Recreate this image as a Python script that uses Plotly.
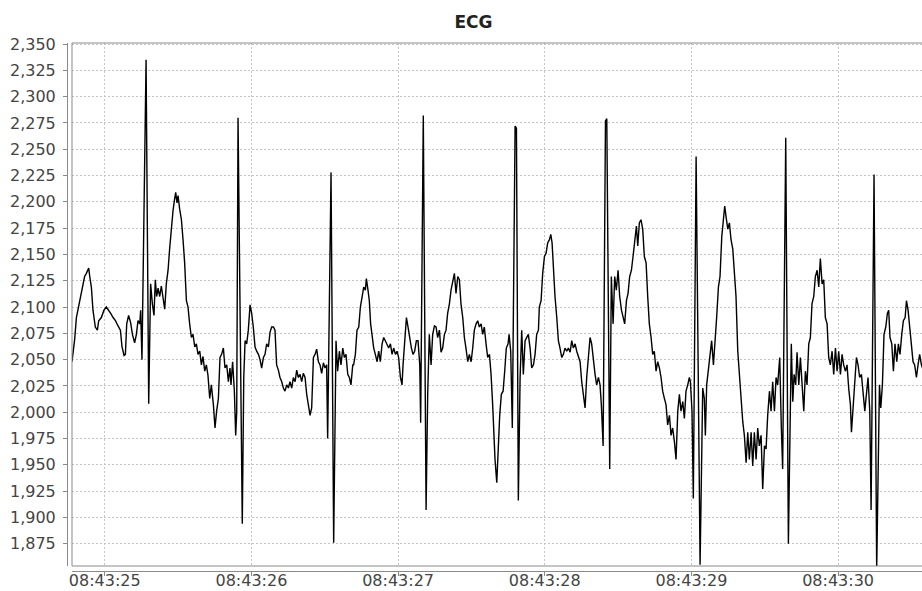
import plotly.graph_objects as go
import pandas as pd

# time offsets (ms) relative to 08:43:25.000 and ECG values
t_ms = [
    -223, -205, -193, -171, -155, -137, -125, -109, -102, -91, -80, -64, -50, -41, -23, -5,
    11, 27, 41, 57, 73, 91, 107, 118, 132, 141, 150, 163, 177, 189, 204, 216, 227, 239, 245,
    254, 282, 300, 313, 325, 336, 345, 354, 364, 375, 386, 398, 409, 420, 432, 443, 454, 466,
    477, 484, 493, 500, 511, 523, 534, 545, 557, 568, 579, 591, 602, 614, 625, 636, 648, 659,
    670, 682, 693, 704, 716, 727,
    741, 752, 763, 775, 786, 797, 809, 820, 832, 843, 854, 861, 872, 884, 893, 900, 909, 938,
    948, 957, 968, 979, 991, 1002, 1013, 1025, 1036, 1048, 1059, 1070, 1082, 1093, 1104, 1116,
    1127, 1138, 1150, 1161, 1172, 1184, 1195, 1207, 1218, 1229, 1241, 1252, 1263, 1275, 1286,
    1298, 1309, 1320, 1332, 1343, 1354, 1366, 1377, 1388, 1400, 1411, 1423, 1434, 1445, 1457,
    1468, 1479, 1491, 1502, 1513, 1520, 1543, 1561, 1577, 1588, 1600, 1611, 1623, 1634, 1645,
    1657, 1668, 1679, 1691,
    1697, 1709, 1720, 1732, 1743, 1754, 1766, 1777, 1784, 1795, 1804, 1813, 1822, 1834, 1845,
    1857, 1868, 1879, 1891, 1902, 1913, 1925, 1936, 1948, 1959, 1970, 1982, 1993, 2004, 2016,
    2027, 2034, 2045, 2057, 2068, 2079, 2091, 2102, 2113, 2125, 2136, 2148, 2154, 2172, 2191,
    2202, 2213, 2225, 2236, 2248, 2259, 2270, 2282, 2293, 2304, 2316, 2327, 2338, 2350, 2361,
    2373, 2384, 2395, 2407, 2418, 2429, 2441, 2452, 2463, 2475, 2486, 2498, 2509, 2520, 2532,
    2543, 2554, 2566, 2577, 2588, 2600, 2611, 2623, 2634, 2645, 2654,
    2661, 2673, 2682, 2693, 2704, 2716, 2727, 2738, 2750, 2757, 2768, 2779, 2798, 2807, 2820,
    2832, 2843, 2854, 2866, 2877, 2888, 2900, 2911, 2923, 2934, 2945, 2957, 2963, 2975, 2986,
    2998, 3009, 3020, 3032, 3041, 3050, 3059, 3070, 3082, 3093, 3104, 3116, 3127, 3138, 3150,
    3161, 3173, 3184, 3195, 3207, 3218, 3229, 3241, 3252, 3263, 3275, 3286, 3298, 3309, 3320,
    3332, 3343, 3354, 3366, 3377, 3386, 3398, 3414, 3423, 3443, 3454, 3466, 3477, 3488, 3500,
    3511, 3523, 3534, 3545, 3557, 3568, 3579, 3591, 3602, 3614, 3625,
    3634, 3645, 3656, 3668, 3679, 3691, 3702, 3713, 3725, 3736, 3747, 3759, 3770, 3782, 3793,
    3804, 3816, 3827, 3838, 3850, 3861, 3872, 3884, 3895, 3907, 3918, 3929, 3941, 3952, 3963,
    3975, 3986, 3993, 4004, 4013, 4032, 4059, 4077, 4088, 4095, 4104, 4116, 4127, 4138, 4150,
    4161, 4172, 4184, 4195, 4207, 4218, 4227, 4236, 4248, 4259, 4270, 4282, 4293, 4304, 4316,
    4327, 4338, 4350, 4361, 4373, 4384, 4395, 4407, 4418, 4429, 4441, 4452, 4463, 4475, 4486,
    4498, 4509, 4520, 4532, 4543, 4554, 4566, 4577, 4588,
    4602, 4613, 4622, 4643, 4661, 4681, 4691, 4700, 4711, 4720, 4732, 4743, 4754, 4766, 4777,
    4788, 4800, 4811, 4822, 4834, 4845, 4857, 4868, 4879, 4891, 4902, 4913, 4925, 4936, 4947,
    4959, 4970, 4982, 4993, 5004, 5016, 5027, 5038, 5050, 5061, 5072, 5084, 5091, 5102, 5113,
    5125, 5136, 5147, 5159, 5170, 5182, 5193, 5204, 5216, 5225, 5245, 5263, 5282, 5291, 5302,
    5313, 5325, 5336, 5345, 5354, 5366, 5377, 5388, 5400, 5411, 5422, 5434, 5445, 5457, 5466,
    5477, 5488, 5500, 5511, 5522, 5534, 5545, 5556, 5568, 5580,
]

ecg = [
    2048, 2069, 2090, 2106, 2119, 2129, 2132, 2137, 2129, 2119, 2097, 2081, 2078, 2087, 2090, 2097,
    2100, 2097, 2094, 2090, 2087, 2082, 2078, 2062, 2054, 2055, 2084, 2092, 2085, 2074, 2066, 2074, 2087, 2084, 2097,
    2050, 2335, 2008, 2122, 2103, 2092, 2126, 2110, 2118, 2110, 2120, 2110, 2098, 2122, 2135, 2156, 2174, 2192,
    2203, 2209, 2199, 2206, 2193, 2183, 2164, 2142, 2106, 2100, 2084, 2071, 2074, 2062, 2065, 2055, 2058, 2045,
    2053, 2039, 2045, 2035, 2013, 2026,
    2007, 1985, 2001, 2013, 2052, 2055, 2061, 2042, 2045, 2029, 2042, 2026, 2048, 2020, 1978, 2001, 2280, 1894,
    2033, 2068, 2065, 2078, 2102, 2094, 2081, 2062, 2058, 2055, 2050, 2042, 2052, 2055, 2065, 2062,
    2076, 2081, 2081, 2078, 2045, 2040, 2033, 2029, 2023, 2020, 2026, 2023, 2029, 2023, 2033,
    2029, 2040, 2033, 2036, 2029, 2037, 2033, 2017, 2007, 1997, 2004, 2052, 2055, 2060, 2048,
    2045, 2037, 2047, 2042, 2045, 1975, 2228, 1876, 2068, 2039, 2058, 2045, 2061, 2052, 2055,
    2036, 2033, 2026, 2045,
    2045, 2055, 2078, 2081, 2100, 2110, 2119, 2116, 2127, 2116, 2106, 2084, 2074, 2061, 2055,
    2048, 2058, 2048, 2065, 2071, 2068, 2065, 2061, 2065, 2055, 2061, 2055, 2058, 2052, 2033,
    2026, 2045, 2071, 2090, 2081, 2071, 2061, 2055, 2058, 2068, 2068, 2045, 1990, 2282, 1907,
    2017, 2074, 2045, 2074, 2082, 2081, 2071, 2078, 2057, 2061, 2074, 2078, 2094, 2103, 2116,
    2126, 2132, 2113, 2129, 2126, 2103, 2090, 2071, 2061, 2048, 2055, 2048, 2061, 2078, 2084,
    2087, 2081, 2084, 2074, 2081, 2065, 2052, 2055, 2036, 2007, 1968,
    1955, 1933, 1968, 1997, 2017, 2020, 2039, 2061, 2065, 2074, 2058, 1985, 2272, 2270, 1916,
    2033, 2078, 2036, 2068, 2071, 2074, 2061, 2042, 2045, 2055, 2074, 2078, 2100, 2106, 2132,
    2148, 2151, 2161, 2164, 2169, 2161, 2135, 2110, 2090, 2068, 2061, 2052, 2055, 2061, 2058,
    2061, 2057, 2068, 2061, 2065, 2058, 2052, 2048, 2029, 2017, 2004, 2033, 2058, 2071, 2065,
    2048, 2036, 2026, 2033, 2026, 2007, 1968, 2277, 2279, 1946, 2129, 2084, 2129, 2116, 2135,
    2110, 2097, 2090, 2084, 2106, 2113, 2129, 2135, 2148, 2161, 2177,
    2158, 2180, 2183, 2174, 2148, 2142, 2110, 2084, 2071, 2055, 2058, 2039, 2048, 2042, 2033,
    2020, 2013, 2007, 1988, 1997, 1978, 1985, 1972, 1955, 2001, 2017, 2001, 2010, 1994, 2020,
    2026, 2033, 2029, 2001, 1918, 2243, 1855, 2023, 2013, 1978, 2026, 2039, 2055, 2068, 2045,
    2065, 2090, 2119, 2129, 2167, 2180, 2196, 2186, 2174, 2180, 2164, 2155, 2132, 2110, 2058,
    2033, 2010, 1991, 1978, 1952, 1981, 1955, 1981, 1949, 1981, 1955, 1985, 1968, 1978, 1927,
    1968, 1965, 1997, 2020, 2001, 2029, 2001, 2033, 2026,
    2052, 1985, 1946, 2261, 1875, 2065, 2010, 2036, 2026, 2057, 2026, 2052, 2026, 2001, 2039,
    2026, 2065, 2071, 2103, 2110, 2129, 2135, 2119, 2146, 2122, 2126, 2090, 2084, 2052, 2045,
    2058, 2036, 2061, 2039, 2058, 2036, 2055, 2045, 2039, 2045, 2023, 2007, 1981, 2001, 2026,
    2052, 2045, 2033, 2036, 2020, 2001, 2017, 2033, 2001, 1907, 2226, 1850, 2026, 2004, 2026,
    2074, 2081, 2094, 2097, 2071, 2065, 2039, 2065, 2048, 2065, 2055, 2074, 2087, 2090, 2106,
    2097, 2081, 2065, 2048, 2045, 2033, 2045, 2055, 2045, 2040,
]

title_text = "ECG"
base = pd.Timestamp("2024-01-01 08:43:25")
times = base + pd.to_timedelta(t_ms, unit="ms")
x_range = [base + pd.Timedelta(milliseconds=-223), base + pd.Timedelta(milliseconds=5572)]
y_range = [1853.8, 2351]

W, H = 922, 591
ML, MR, MT, MB = 67, 0, 43, 20
GAP = 5
axis_grey = "#8a8a8a"
grid_grey = "#c4c4c4"
font_family = "DejaVu Sans"

fig = go.Figure()
fig.add_trace(go.Scatter(
    x=times, y=ecg, mode="lines",
    line=dict(color="black", width=1.4),
    hoverinfo="x+y", showlegend=False,
))

fig.update_layout(
    width=W, height=H,
    margin=dict(l=ML, r=MR, t=MT, b=MB, autoexpand=False),
    paper_bgcolor="white", plot_bgcolor="white",
    title=dict(text=title_text, x=(473.5 - ML) / (W - ML - MR), xref="paper", xanchor="center",
               y=1 - 22 / H, yref="container", yanchor="middle",
               font=dict(family=font_family, size=17, color="#222222", weight="bold")),
    font=dict(family=font_family, size=16, color="#444444"),
    xaxis=dict(
        type="date", range=x_range,
        domain=[GAP / (W - ML - MR), 1],
        anchor="free", position=0,
        dtick=1000, tickformat="%H:%M:%S", tick0=base,
        showline=True, linecolor=axis_grey, linewidth=1,
        ticks="outside", ticklen=4, tickcolor=axis_grey, ticklabelstandoff=-9,
        showgrid=True, gridcolor=grid_grey, gridwidth=1, griddash="2px,2px",
        zeroline=False, automargin=False,
        tickfont=dict(family=font_family, size=16, color="#444444"),
    ),
    yaxis=dict(
        range=y_range,
        domain=[GAP / (H - MT - MB), 1],
        anchor="free", position=0,
        dtick=25, tick0=2350, tickformat=",d",
        showline=True, linecolor=axis_grey, linewidth=1,
        ticks="outside", ticklen=4, tickcolor=axis_grey, ticklabelstandoff=4,
        showgrid=True, gridcolor=grid_grey, gridwidth=1, griddash="2px,2px",
        zeroline=False, automargin=False,
        tickfont=dict(family=font_family, size=16, color="#444444"),
    ),
    shapes=[dict(type="rect", xref="x domain", yref="y domain",
                 x0=0, x1=1.003, y0=0, y1=1,
                 line=dict(color=axis_grey, width=1), layer="above")],
)

fig.write_html(
    "out.html",
    config={"displayModeBar": False},
    post_script="document.body.style.margin='0px';document.body.style.overflow='hidden';",
)
